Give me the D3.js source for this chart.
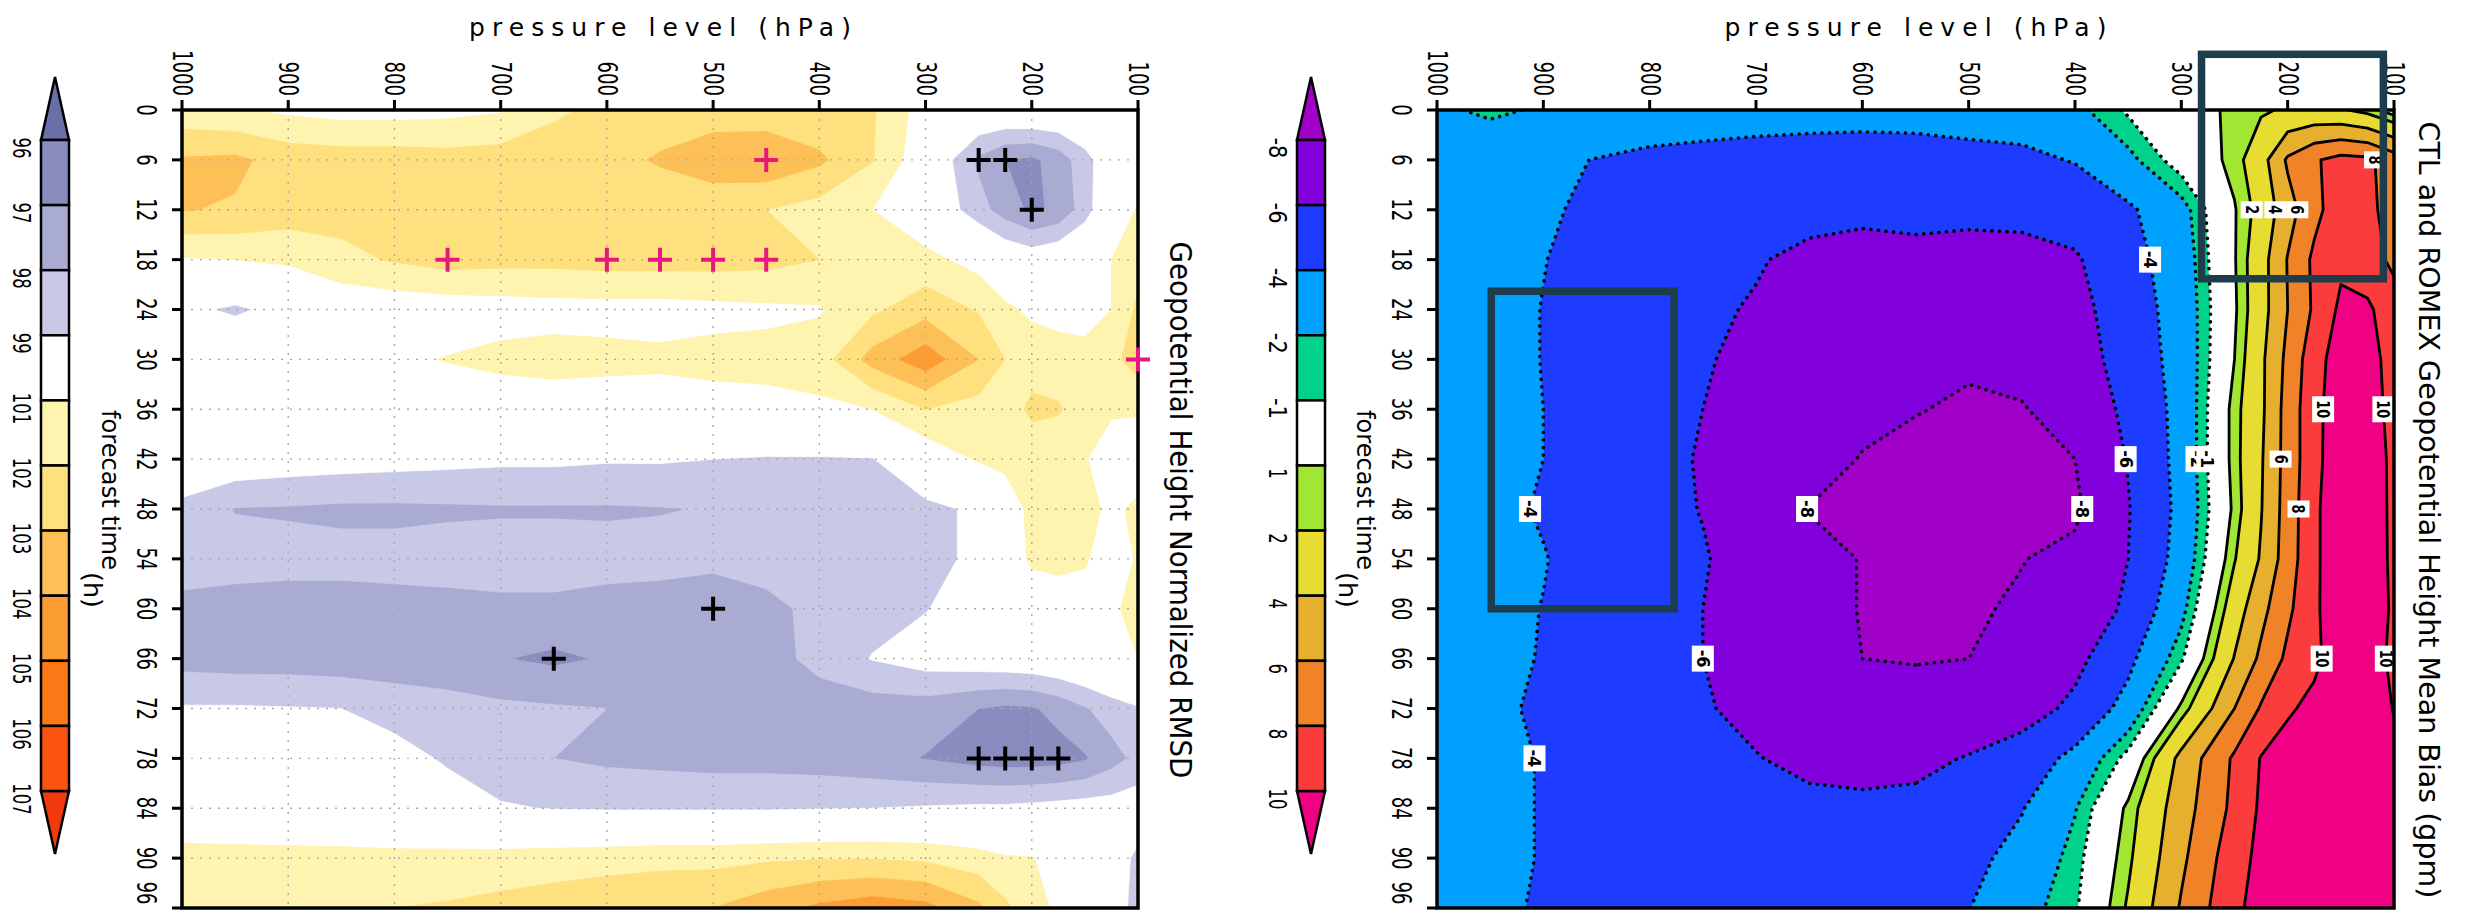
<!DOCTYPE html>
<html><head><meta charset="utf-8">
<script src="https://cdn.jsdelivr.net/npm/d3@7"></script>
<style>body{margin:0;background:#fff}svg{display:block}text{font-family:"DejaVu Sans",sans-serif}</style>
</head><body>
<svg id="c" width="2466" height="919"></svg>
<script>
// ---------- data ----------
const times = [0,6,12,18,24,30,36,42,48,54,60,66,72,78,84,90,96];
const levels = [1000,950,900,850,800,750,700,650,600,550,500,450,400,350,300,250,225,200,175,150,125,100];
const pressureTicks = [1000,900,800,700,600,500,400,300,200,100];
const rmsdLevels = [96,97,98,99,101,102,103,104,105,106,107];
const rmsdColors = ["#6b6fa9","#8a8cbf","#a9abd3","#c8c9e6","#ffffff","#fff3b0","#fee17e","#fdc057","#fc9d33","#fb7a17","#fa5410","#f03a0b"];
const biasLevels = [-8,-6,-4,-2,-1,1,2,4,6,8,10];
const biasColors = ["#a000c8","#8200dc","#1e3cff","#00a0ff","#00d28c","#ffffff","#a0e632","#e6dc32","#e6af2d","#f08228","#fa3c3c","#f00082"];

// normalized RMSD (%), rows = forecast time, columns = pressure levels (1000 -> 100)
const rmsdGrid = [
 [101.3,101.1,100.8,100.6,100.6,100.7,100.9,101.8,102.3,102.5,102.5,102.4,102.2,102.1,100.5,100.2,100.2,100.3,100.3,100.4,100.6,100.8],
 [103.1,103.2,102.6,102.5,102.5,102.4,102.5,102.6,102.7,103.1,103.6,103.8,103.2,102.05,100.2,97.8,97.0,96.8,97.4,98.6,99.8,100.6],
 [103.05,102.9,102.5,102.4,102.3,102.4,102.5,102.5,102.5,102.4,102.3,102.0,101.6,101.0,100.1,98.4,97.5,96.8,97.2,98.5,100.2,101.1],
 [100.9,101.0,101.2,101.7,102.1,102.4,102.3,102.3,102.4,102.4,102.4,102.3,102.0,101.6,101.3,100.6,100.0,99.7,100.0,100.5,101.0,101.6],
 [99.3,98.8,99.4,100.2,100.3,100.4,100.5,100.6,100.6,100.6,100.7,100.8,100.9,101.8,102.6,101.9,101.2,100.8,100.6,100.5,101.0,102.2],
 [100.2,100.3,100.4,100.6,100.8,101.05,101.3,101.4,101.3,101.2,101.3,101.3,101.5,103.4,104.6,103.0,102.0,101.6,101.5,101.4,101.7,102.5],
 [100.0,100.0,100.1,100.2,100.2,100.3,100.3,100.4,100.4,100.5,100.6,100.7,100.8,101.0,102.0,101.6,101.5,102.2,102.1,101.5,101.1,101.1],
 [100.0,99.8,99.6,99.5,99.4,99.3,99.2,99.2,99.1,99.1,99.0,98.9,98.9,98.95,100.2,101.1,101.3,101.4,101.3,101.05,100.6,100.4],
 [98.7,97.95,97.9,97.8,97.8,97.85,97.9,97.9,97.9,97.95,98.05,98.3,98.4,98.6,98.7,99.2,100.3,101.3,101.4,101.3,100.8,101.2],
 [98.5,98.4,98.3,98.3,98.3,98.4,98.4,98.4,98.3,98.3,98.2,98.3,98.4,98.5,98.7,99.2,100.2,101.2,101.3,101.1,100.5,101.1],
 [97.7,97.6,97.6,97.6,97.7,97.7,97.8,97.8,97.7,97.6,97.5,97.8,98.2,98.6,98.95,99.6,99.9,100.2,100.4,100.6,100.9,101.2],
 [97.6,97.5,97.5,97.4,97.3,97.15,97.05,96.8,97.1,97.3,97.4,97.6,98.3,99.05,99.5,99.7,99.8,99.9,100.1,100.4,100.7,101.0],
 [99.1,99.1,99.05,99.0,98.7,98.5,98.2,98.1,98.0,97.7,97.6,97.6,97.5,97.5,97.5,97.0,96.8,96.9,97.3,97.9,98.5,98.9],
 [100.0,99.9,99.8,99.6,99.3,98.9,98.4,98.0,97.8,97.7,97.6,97.6,97.5,97.3,96.95,96.6,96.5,96.5,96.6,96.9,97.6,98.3],
 [100.3,100.2,100.1,100.0,99.7,99.4,99.1,98.95,98.9,98.9,98.9,98.9,98.95,99.0,99.1,99.2,99.2,99.3,99.4,99.5,99.5,99.6],
 [101.3,101.3,101.3,101.3,101.3,101.35,101.4,101.5,101.6,101.7,101.7,101.85,101.95,101.95,101.8,101.4,101.1,101.05,100.6,100.0,99.5,98.8],
 [101.5,101.6,101.7,101.85,102.0,102.1,102.3,102.5,102.7,102.85,103.0,103.6,104.2,104.6,104.3,103.2,102.2,101.4,100.8,100.2,99.6,98.6]
];
// mean bias (gpm)
const biasGrid = [
 [-2.3,-1.7,-2.2,-2.6,-2.9,-3.0,-3.1,-3.2,-3.3,-3.3,-3.0,-3.1,-2.4,-0.8,0.2,1.3,1.8,2.2,2.4,2.2,1.5,0.3],
 [-2.6,-3.3,-3.7,-4.05,-4.4,-4.6,-4.8,-4.9,-4.9,-4.8,-4.7,-4.4,-3.9,-2.4,-0.3,1.4,3.2,6.3,7.8,8.6,8.4,7.0],
 [-2.7,-3.3,-3.8,-4.3,-4.8,-5.1,-5.4,-5.6,-5.7,-5.6,-5.6,-5.5,-5.2,-4.3,-2.6,0.9,2.6,5.2,7.4,9.2,8.5,7.2],
 [-2.8,-3.3,-3.95,-4.6,-5.2,-5.6,-5.9,-6.3,-6.5,-6.4,-6.6,-6.6,-6.2,-4.7,-3.0,0.9,3.2,6.1,8.4,9.6,9.0,7.5],
 [-2.8,-3.3,-4.05,-4.8,-5.4,-5.8,-6.1,-6.5,-6.8,-7.0,-7.1,-7.0,-6.6,-5.0,-3.2,0.8,3.2,6.0,8.3,10.4,10.3,9.0],
 [-2.8,-3.3,-4.05,-4.9,-5.5,-5.9,-6.3,-6.8,-7.2,-7.5,-7.7,-7.5,-6.9,-5.2,-3.3,1.0,3.6,6.5,9.2,11.0,11.0,9.0],
 [-2.8,-3.3,-4.0,-4.9,-5.6,-6.0,-6.5,-7.0,-7.5,-7.9,-8.3,-8.1,-7.3,-5.6,-3.4,1.5,3.6,6.8,9.4,11.2,10.9,9.4],
 [-2.8,-3.3,-4.0,-4.9,-5.6,-6.1,-6.6,-7.2,-8.1,-8.6,-8.9,-8.7,-8.0,-5.9,-3.4,1.5,3.8,6.8,9.4,11.3,11.0,9.6],
 [-2.9,-3.4,-4.2,-5.0,-5.6,-6.05,-6.8,-8.05,-8.8,-9.2,-9.4,-9.2,-8.3,-6.1,-3.5,1.3,3.9,6.9,9.6,11.4,11.1,9.6],
 [-2.9,-3.5,-3.9,-4.9,-5.6,-5.9,-6.6,-7.6,-8.05,-8.6,-8.7,-8.05,-7.6,-6.0,-3.3,1.9,4.2,7.0,9.6,11.4,11.2,9.6],
 [-2.9,-3.4,-4.05,-4.9,-5.5,-6.0,-6.5,-7.2,-8.1,-8.4,-8.2,-7.8,-7.2,-5.7,-2.5,3.0,5.4,7.6,9.6,11.5,10.8,9.8],
 [-3.0,-3.5,-4.1,-5.0,-5.6,-6.0,-6.4,-7.0,-8.0,-8.1,-8.0,-7.5,-6.5,-4.5,-1.2,4.1,6.4,8.4,9.5,11.3,10.9,9.6],
 [-3.0,-3.6,-4.3,-5.0,-5.5,-5.9,-6.3,-6.8,-7.2,-7.3,-7.2,-6.8,-5.6,-3.3,1.3,6.0,8.2,9.7,10.6,11.4,11.4,9.9],
 [-3.0,-3.5,-4.1,-4.9,-5.6,-5.7,-5.95,-6.3,-6.5,-6.4,-5.9,-5.1,-3.5,-0.5,4.6,8.3,10.1,11.0,11.4,11.6,11.6,10.5],
 [-3.0,-3.5,-4.1,-4.7,-5.2,-5.4,-5.6,-5.7,-5.7,-5.6,-5.2,-4.1,-2.1,1.3,5.1,8.5,10.3,11.2,11.6,11.8,11.8,11.5],
 [-3.0,-3.5,-4.1,-4.7,-5.1,-5.3,-5.4,-5.4,-5.3,-5.0,-4.5,-3.4,-1.5,1.7,5.6,9.2,10.5,11.3,11.7,11.9,11.9,11.6],
 [-3.0,-3.6,-4.2,-4.8,-5.2,-5.3,-5.3,-5.2,-5.0,-4.6,-4.05,-2.6,-1.2,2.2,6.2,9.6,10.7,11.4,11.8,12.0,12.0,11.7]
];
// significance markers [forecast time, pressure]
const pinkMarks = [[6,450],[18,750],[18,600],[18,550],[18,500],[18,450],[30,100]];
const blackMarks = [[6,250],[6,225],[12,200],[60,500],[66,650],[78,250],[78,225],[78,200],[78,175]];
// contour labels [value, forecast time, approx pressure]
const biasLabels = [[8,6,120],[2,12,235],[4,12,212],[6,12,192],[-4,18,325],[10,36,168],[10,36,112],[-6,42,350],[-2,42,287],[-1,42,275],[6,42,208],
  [-4,48,915],[-8,48,650],[-8,48,395],[8,48,190],[-6,66,748],[10,66,168],[10,66,108],[-4,78,905]];
// highlighted boxes [p left, p right, t top, t bottom]
const boxes = [[281,110,-6.7,20.3],[949,777,21.8,60]];

// ---------- drawing ----------
const W = 2466, H = 919;
const svg = d3.select("#c");
const n = levels.length, m = times.length;
const pIdx = d3.scaleLinear().domain(d3.range(n)).range(levels);
const tIdx = d3.scaleLinear().domain(d3.range(m)).range(times);

function rtext(g, x, y, str, size, anchor, opts={}) {
  const t = g.append("text").attr("transform", `translate(${x},${y}) rotate(90)`)
    .attr("text-anchor", anchor).attr("dominant-baseline","central")
    .attr("font-size", size).attr("fill","#000").text(str);
  if (opts.len) t.attr("textLength", opts.len).attr("lengthAdjust", opts.adj || "spacingAndGlyphs");
  if (opts.weight) t.attr("font-weight", opts.weight);
  return t;
}
// tall, condensed numeric labels (GrADS style)
const NUM_SIZE = 26;
const numLabel = (g, x, y, s, anchor) => rtext(g, x, y, s, NUM_SIZE, anchor, {len: s.length * 11.5});

function crossP(grid, value, t, approxP) {
  const row = grid[times.indexOf(t)];
  let best = null, bd = 1e9;
  for (let i = 0; i < n - 1; i++) {
    const a = row[i], b = row[i+1];
    if ((a - value) * (b - value) <= 0 && a !== b) {
      const p = levels[i] + (value - a) / (b - a) * (levels[i+1] - levels[i]);
      if (Math.abs(p - approxP) < bd) { bd = Math.abs(p - approxP); best = p; }
    }
  }
  return best;
}

function drawPanel(o) {
  const g = svg.append("g");
  const x = d3.scaleLinear().domain([1000,100]).range([o.x0,o.x1]);
  const y = d3.scaleLinear().domain([0,96]).range([o.y0,o.y1]);
  const map = ([cx,cy]) => {
    const sx = Math.max(0, Math.min(n-1, cx-0.5)), sy = Math.max(0, Math.min(m-1, cy-0.5));
    return [x(pIdx(sx)), y(tIdx(sy)), sx, sy];
  };
  const clip = "clip" + o.id;
  svg.append("clipPath").attr("id", clip).append("rect")
    .attr("x", o.x0).attr("y", o.y0).attr("width", o.x1-o.x0).attr("height", o.y1-o.y0);
  const pg = g.append("g").attr("clip-path", `url(#${clip})`);
  pg.append("rect").attr("x", o.x0).attr("y", o.y0).attr("width", o.x1-o.x0).attr("height", o.y1-o.y0).attr("fill", o.colors[0]);
  const contours = d3.contours().size([n,m]).thresholds(o.thr)(o.grid.flat());
  contours.forEach((c,k) => {
    let d = "";
    c.coordinates.forEach(poly => poly.forEach(ring => {
      d += "M" + ring.map(pt => { const q = map(pt); return q[0].toFixed(2)+","+q[1].toFixed(2); }).join("L") + "Z";
    }));
    pg.append("path").attr("d", d).attr("fill", o.colors[k+1]).attr("fill-rule","evenodd")
      .attr("stroke", o.colors[k+1]).attr("stroke-width", 0.8);
  });
  if (o.grid2) {
    pressureTicks.slice(1,-1).forEach(p => pg.append("line").attr("x1", x(p)).attr("x2", x(p)).attr("y1", o.y0).attr("y2", o.y1)
      .attr("stroke","#a8a8a8").attr("stroke-width",1.4).attr("stroke-dasharray","2 7"));
    times.slice(1,-1).forEach(t => pg.append("line").attr("x1", o.x0).attr("x2", o.x1).attr("y1", y(t)).attr("y2", y(t))
      .attr("stroke","#a8a8a8").attr("stroke-width",1.4).attr("stroke-dasharray","2 7"));
  }
  if (o.lines) {
    const eps = 1e-6;
    const same = (a,b) => (a[2]<eps&&b[2]<eps)||(a[2]>n-1-eps&&b[2]>n-1-eps)||(a[3]<eps&&b[3]<eps)||(a[3]>m-1-eps&&b[3]>m-1-eps);
    contours.forEach((c,k) => {
      let d = "";
      c.coordinates.forEach(poly => poly.forEach(ring => {
        const pts = ring.map(map);
        let pen = false;
        for (let i = 0; i < pts.length-1; i++) {
          const a = pts[i], b = pts[i+1];
          if (same(a,b)) { pen = false; continue; }
          if (!pen) { d += "M"+a[0].toFixed(2)+","+a[1].toFixed(2); pen = true; }
          d += "L"+b[0].toFixed(2)+","+b[1].toFixed(2);
        }
      }));
      const neg = o.thr[k] < 0;
      pg.append("path").attr("d", d).attr("fill","none").attr("stroke","#000")
        .attr("stroke-width", neg ? 3.6 : 2.8).attr("stroke-linecap", neg ? "round" : "butt")
        .attr("stroke-linejoin","round").attr("stroke-dasharray", neg ? "0.1 7.5" : null);
    });
    o.labels.forEach(([v,t,ap]) => {
      const p = crossP(o.grid, v, t, ap);
      if (p == null) return;
      const s = String(v), h = s.length*9 + 8;
      const cx = x(p), cy = y(t);
      pg.append("rect").attr("x", cx-11).attr("y", cy-h/2).attr("width",22).attr("height",h).attr("fill","#fff");
      rtext(pg, cx, cy, s, 17, "middle", {weight:"bold", len: s.length*9});
    });
  }
  // frame
  g.append("rect").attr("x", o.x0).attr("y", o.y0).attr("width", o.x1-o.x0).attr("height", o.y1-o.y0)
    .attr("fill","none").attr("stroke","#000").attr("stroke-width",3.5);
  // ticks & labels
  pressureTicks.forEach(p => {
    g.append("line").attr("x1", x(p)).attr("x2", x(p)).attr("y1", o.y0-10).attr("y2", o.y0).attr("stroke","#000").attr("stroke-width",3);
    numLabel(g, x(p), o.y0-14, String(p), "end");
  });
  times.forEach(t => {
    g.append("line").attr("x1", o.x0-10).attr("x2", o.x0).attr("y1", y(t)).attr("y2", y(t)).attr("stroke","#000").attr("stroke-width",3);
    numLabel(g, o.x0-36, Math.min(y(t), H - 26), String(t), "middle");
  });
  g.append("text").attr("x", (o.x0+o.x1)/2).attr("y", 36).attr("text-anchor","middle").attr("font-size",25)
    .attr("textLength", 382).attr("lengthAdjust","spacing").text("pressure level (hPa)");
  rtext(g, o.x0-72, 410, "forecast time", 24, "start", {len:160});
  rtext(g, o.x0-90, 572, "(h)", 24, "start", {len:36});
  rtext(g, o.titleX, 510, o.title, o.titleSize, "middle", {len:o.titleLen});
  // markers
  if (o.marks) o.marks.forEach(([arr,col]) => arr.forEach(([t,p]) => {
    const cx = x(p), cy = y(t), r = 12;
    g.append("path").attr("d", `M${cx-r},${cy}H${cx+r}M${cx},${cy-r}V${cy+r}`).attr("stroke", col).attr("stroke-width",4);
  }));
  if (o.boxes) o.boxes.forEach(([pa,pb,ta,tb]) => {
    g.append("rect").attr("x", x(pa)).attr("y", y(ta)).attr("width", x(pb)-x(pa)).attr("height", y(tb)-y(ta))
      .attr("fill","none").attr("stroke","#1d3c4c").attr("stroke-width",7.5);
  });
  // colorbar
  const cb = svg.append("g");
  const by = d3.scaleLinear().domain([0, o.thr.length-1]).range([140, 791]);
  const bx0 = o.cbx - 14, bx1 = o.cbx + 14;
  cb.append("path").attr("d", `M${bx0},${by(0)}L${o.cbx},77L${bx1},${by(0)}Z`).attr("fill", o.colors[0]).attr("stroke","#000").attr("stroke-width",2.5);
  cb.append("path").attr("d", `M${bx0},${by(o.thr.length-1)}L${o.cbx},854L${bx1},${by(o.thr.length-1)}Z`).attr("fill", o.colors[o.colors.length-1]).attr("stroke","#000").attr("stroke-width",2.5);
  for (let i = 0; i < o.thr.length-1; i++) {
    cb.append("rect").attr("x", bx0).attr("y", by(i)).attr("width", bx1-bx0).attr("height", by(i+1)-by(i))
      .attr("fill", o.colors[i+1]).attr("stroke","#000").attr("stroke-width",2.5);
  }
  o.thr.forEach((v,i) => rtext(cb, o.cbx-34, by(i)+8, String(v), 24, "middle", {len: String(v).length*10.5}));
}

drawPanel({id:"L", x0:182, x1:1138, y0:110, y1:908, grid:rmsdGrid, thr:rmsdLevels, colors:rmsdColors,
  grid2:true, lines:false, title:"Geopotential Height Normalized RMSD", titleX:1180, titleLen:537, titleSize:30,
  marks:[[pinkMarks,"#e8177f"],[blackMarks,"#000"]], cbx:55});
drawPanel({id:"R", x0:1437, x1:2394, y0:110, y1:908, grid:biasGrid, thr:biasLevels, colors:biasColors,
  grid2:false, lines:true, labels:biasLabels, title:"CTL and ROMEX Geopotential Height Mean Bias (gpm)", titleX:2428, titleLen:777, titleSize:28,
  boxes:boxes, cbx:1311});
</script>
</body></html>
